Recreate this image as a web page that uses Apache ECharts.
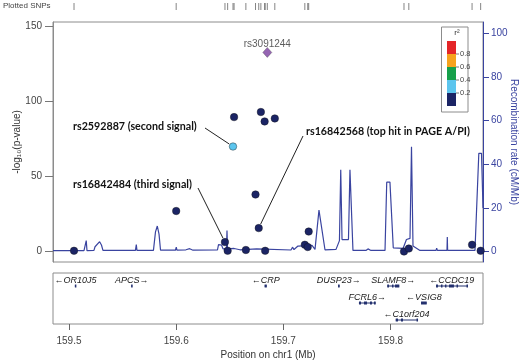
<!DOCTYPE html>
<html>
<head>
<meta charset="utf-8">
<script src="https://cdn.jsdelivr.net/npm/echarts@6/dist/echarts.min.js"></script>
<style>
  html, body { margin: 0; padding: 0; background: #fff; }
  #main { width: 520px; height: 361px; }
</style>
</head>
<body>
<div id="main"></div>
<script>
// SNPs: position (Mb), -log10(p), r2 with the lead SNP
var snpPos  = [159.5047, 159.600, 159.6455, 159.648, 159.653, 159.654, 159.665, 159.674, 159.677, 159.679,
               159.6825, 159.683, 159.692, 159.720, 159.7227, 159.7236, 159.8125, 159.817, 159.876, 159.884];
var snpLogP = [0.5, 27, 6.3, 0.5, 70, 89.6, 1, 38, 15.6, 93,
               86.7, 0.5, 88.7, 4.5, 3, 13.3, 0, 2, 4.5, 0.5];
var snpR2   = [0.05, 0.05, 0.1, 0.05, 0.3, 0.1, 0.05, 0.1, 0.1, 0.1,
               0.1, 0.05, 0.1, 0.05, 0.05, 0.05, 0.05, 0.05, 0.05, 0.05];

var leadName = "rs3091244";
var leadPos = 159.685;
var leadLogP = 132.7;

// recombination rate (cM/Mb)
var recombPos = [159.4851, 159.514, 159.5154, 159.5161, 159.5168, 159.5233, 159.5243, 159.5261, 159.5286, 159.5303,
  159.5317, 159.562, 159.5628, 159.5634, 159.5788, 159.5807, 159.5824, 159.584, 159.5854, 159.5993,
  159.6001, 159.6007, 159.6091, 159.6126, 159.6157, 159.6385, 159.6395, 159.6423, 159.6437, 159.6469,
  159.6474, 159.6479, 159.654, 159.6595, 159.6751, 159.6758, 159.7071, 159.7085, 159.7099, 159.7136,
  159.7267, 159.7295, 159.7332, 159.7388, 159.7491, 159.7523, 159.7535, 159.7547, 159.7607, 159.7621,
  159.7649, 159.777, 159.7789, 159.7817, 159.7948, 159.7964, 159.7994, 159.8025, 159.8116, 159.8148,
  159.8181, 159.8195, 159.8209, 159.8274, 159.8424, 159.843, 159.8436, 159.8526, 159.8529, 159.8532,
  159.8787, 159.8823, 159.8848, 159.8862];
var recombRate = [0.4, 0.4, 0.4, 5, 0.4, 0.5, 2.2, 2.5, 4.5, 3,
  0.5, 0.5, 3.2, 0.5, 0.5, 9, 11.7, 8, 0.6, 0.6,
  2, 0.6, 0.8, 1.3, 0.6, 0.7, 3.2, 3, 1.2, 1.2,
  9.6, 1.2, 1.4, 0.8, 1.2, 0.6, 0.7, 2, 0.9, 2.5,
  2.8, 1, 19, 0.8, 1, 5, 37.5, 5.5, 5.5, 37.5,
  0.5, 0.5, 1.2, 0.5, 0.5, 31.8, 31.8, 1.7, 1.4, 5.5,
  6, 48, 2.5, 0.5, 0.5, 1.5, 0.5, 0.5, 6.6, 0.5,
  0.5, 45, 45, 20];

// genes
var geneNames  = ["OR10J5", "APCS", "CRP", "DUSP23", "SLAMF8", "CCDC19", "FCRL6", "VSIG8", "C1orf204"];
var geneStart  = [159.5055, 159.558, 159.6825, 159.751, 159.7969, 159.8424, 159.7705, 159.8284, 159.8048];
var geneEnd    = [159.5065, 159.559, 159.6845, 159.7525, 159.8081, 159.8716, 159.7861, 159.8337, 159.8249];
var geneStrand = [-1, 1, -1, 1, 1, -1, 1, -1, -1];
var geneRow    = [0, 0, 0, 0, 0, 0, 1, 1, 2];
var geneExons  = [
  [[159.5055, 159.5065]],
  [[159.558, 159.559]],
  [[159.6825, 159.6845]],
  [[159.751, 159.7525]],
  [[159.7969, 159.7985], [159.8013, 159.8027], [159.8041, 159.8081]],
  [[159.8424, 159.8442], [159.8470, 159.8484], [159.8507, 159.8521], [159.8545, 159.8591], [159.8615, 159.8629], [159.8708, 159.8716]],
  [[159.7705, 159.7724], [159.7752, 159.7780], [159.7808, 159.7826], [159.7845, 159.7861]],
  [[159.8284, 159.8337]],
  [[159.8048, 159.8069], [159.8097, 159.8116], [159.8242, 159.8249]]
];

var xTicks = [159.5, 159.6, 159.7, 159.8];
var leftTicks = [0, 50, 100, 150];
var rightTicks = [0, 20, 40, 60, 80, 100];
var r2Breaks = [0.2, 0.4, 0.6, 0.8];
var r2Colors = ["#1b2465", "#5cc5ee", "#16a04a", "#f6a21d", "#e42528"];

var annoText = ["rs2592887 (second signal)", "rs16842484 (third signal)", "rs16842568 (top hit in PAGE A/PI)"];
var annoSnp = [4, 2, 8];
var annoBox = [[73, 127, 205, 128], [73, 185, 198, 188], [306, 132, 303, 136]]; // text x, y, line start x, y

var navy = "#3a44a0";

function r2Color(r) {
  var i = 0;
  while (i < r2Breaks.length && r >= r2Breaks[i]) i++;
  return r2Colors[i];
}

var chartDom = document.getElementById("main");
var myChart = echarts.init(chartDom);

var snpData = snpPos.map(function (p, i) {
  return { value: [p, snpLogP[i]], itemStyle: { color: r2Color(snpR2[i]) } };
});
var stripData = snpPos.concat([leadPos]).map(function (p) { return [p, 0.5]; });
var recombData = recombPos.map(function (p, i) { return [p, recombRate[i]]; });
var geneData = geneNames.map(function (n, i) { return [geneStart[i], geneEnd[i], geneRow[i], i]; });

var xMin = 159.4851, xMax = 159.8862;
var font = "Liberation Sans, Arial, sans-serif";

var option = {
  animation: false,
  backgroundColor: "#fff",
  grid: [
    { left: 53, top: 22, width: 430, height: 240, show: true, borderColor: "#8c8c8c", borderWidth: 1, outerBoundsMode: "none", containLabel: false },
    { left: 53, top: 273, width: 430, height: 51, show: true, borderColor: "#8c8c8c", borderWidth: 1, outerBoundsMode: "none", containLabel: false },
    { left: 53, top: 3, width: 430, height: 7, show: false, outerBoundsMode: "none", containLabel: false }
  ],
  xAxis: [
    { gridIndex: 0, type: "value", min: xMin, max: xMax, axisLine: { show: false }, axisTick: { show: false },
      axisLabel: { show: false }, splitLine: { show: false } },
    { gridIndex: 1, type: "value", min: xMin, max: xMax, position: "bottom",
      axisLine: { show: false, onZero: false },
      axisTick: { show: true, length: 6, lineStyle: { color: "#666" }, customValues: xTicks },
      axisLabel: { show: true, fontSize: 10, color: "#444", fontFamily: font, margin: 12, customValues: xTicks,
        formatter: function (v) { return v.toFixed(1); } },
      splitLine: { show: false },
      name: "Position on chr1 (Mb)", nameLocation: "middle", nameGap: 26,
      nameTextStyle: { fontSize: 10, color: "#333", fontFamily: font } },
    { gridIndex: 2, type: "value", min: xMin, max: xMax, show: false }
  ],
  yAxis: [
    { gridIndex: 0, type: "value", min: -7, max: 153, position: "left",
      axisLine: { show: true, onZero: false, lineStyle: { color: "#8c8c8c" } },
      axisTick: { show: true, length: 8, lineStyle: { color: "#777" }, customValues: leftTicks },
      axisLabel: { fontSize: 10, color: "#444", fontFamily: font, margin: 11, customValues: leftTicks },
      splitLine: { show: false },
      name: "-log\u2081\u2080(p-value)", nameLocation: "middle", nameGap: 31, nameRotate: 90, nameMoveOverlap: false,
      nameTextStyle: { fontSize: 10, color: "#333", fontFamily: font } },
    { gridIndex: 0, type: "value", min: -4.8, max: 105.2, position: "right",
      axisLine: { show: true, onZero: false, lineStyle: { color: navy } },
      axisTick: { show: true, length: 6, lineStyle: { color: navy }, customValues: rightTicks },
      axisLabel: { fontSize: 10, color: navy, fontFamily: font, margin: 8, customValues: rightTicks },
      splitLine: { show: false },
      name: "Recombination rate (cM/Mb)", nameLocation: "middle", nameGap: 26, nameRotate: -90, nameMoveOverlap: false,
      nameTextStyle: { fontSize: 10, color: navy, fontFamily: font } },
    { gridIndex: 1, type: "value", min: -0.765, max: 2.235, inverse: true, show: false },
    { gridIndex: 2, type: "value", min: 0, max: 1, show: false }
  ],
  series: [
    { type: "line", xAxisIndex: 0, yAxisIndex: 1, data: recombData, showSymbol: false, z: 2,
      lineStyle: { color: navy, width: 1.2 } },
    { type: "scatter", xAxisIndex: 0, yAxisIndex: 0, data: snpData, symbolSize: 7.5, z: 4,
      itemStyle: { borderColor: "#111", borderWidth: 0.4, opacity: 1 } },
    { type: "scatter", xAxisIndex: 0, yAxisIndex: 0, data: [[leadPos, leadLogP]], symbol: "diamond", symbolSize: [9, 10], z: 5,
      itemStyle: { color: "#7b3f9f", borderColor: "#333", borderWidth: 0.4 },
      label: { show: true, position: "top", distance: -2, formatter: leadName, fontSize: 10, color: "#333", fontFamily: font } },
    { type: "scatter", xAxisIndex: 2, yAxisIndex: 3, data: stripData, symbol: "rect", symbolSize: [1, 7],
      itemStyle: { color: "#666" } },
    { type: "custom", xAxisIndex: 1, yAxisIndex: 2, data: geneData, z: 3,
      renderItem: function (params, api) {
        var i = api.value(3);
        var row = api.value(2);
        var s = api.coord([api.value(0), row]);
        var e = api.coord([api.value(1), row]);
        var children = [{
          type: "line", shape: { x1: s[0], y1: s[1], x2: e[0], y2: e[1] },
          style: { stroke: "#23306e", lineWidth: 1 }
        }];
        geneExons[i].forEach(function (ex) {
          var a = api.coord([ex[0], row]), b = api.coord([ex[1], row]);
          children.push({ type: "rect", shape: { x: a[0], y: a[1] - 1.5, width: Math.max(b[0] - a[0], 1.5), height: 3 },
            style: { fill: "#23306e" } });
        });
        var name = geneStrand[i] < 0 ? "\u2190" + geneNames[i] : geneNames[i] + "\u2192";
        children.push({ type: "text", x: (s[0] + e[0]) / 2, y: s[1] - 6,
          style: { text: name, fill: "#222", font: "italic 9px " + font, align: "center", verticalAlign: "middle" } });
        return { type: "group", children: children };
      } }
  ]
};

myChart.setOption(option);

// legend and annotations
var graphics = [];
graphics.push({ type: "text", x: 3, y: 6, style: { text: "Plotted SNPs", fill: "#444", font: "8px " + font, verticalAlign: "middle" } });
graphics.push({ type: "rect", shape: { x: 441.5, y: 27, width: 26.5, height: 85 },
  style: { fill: "#fff", stroke: "#8c8c8c", lineWidth: 1 }, z: 10 });
graphics.push({ type: "text", x: 457, y: 33, style: { text: "r\u00b2", fill: "#333", font: "8px " + font, align: "center", verticalAlign: "middle" }, z: 11 });
for (var k = 0; k < r2Colors.length; k++) {
  var barTop = 41 + (r2Colors.length - 1 - k) * 13;
  graphics.push({ type: "rect", shape: { x: 447, y: barTop, width: 9, height: 13 }, style: { fill: r2Colors[k] }, z: 11 });
}
for (var b = 0; b < r2Breaks.length; b++) {
  var yb = 41 + (r2Breaks.length - b) * 13;
  graphics.push({ type: "line", shape: { x1: 456, y1: yb, x2: 459, y2: yb }, style: { stroke: "#555", lineWidth: 0.8 }, z: 11 });
  graphics.push({ type: "text", x: 460, y: yb, style: { text: r2Breaks[b].toFixed(1), fill: "#444", font: "7.5px " + font, verticalAlign: "middle" }, z: 11 });
}
annoText.forEach(function (t, i) {
  var box = annoBox[i];
  var j = annoSnp[i];
  var pt = myChart.convertToPixel({ xAxisIndex: 0, yAxisIndex: 0 }, [snpPos[j], snpLogP[j]]);
  var dx = pt[0] - box[2], dy = pt[1] - box[3];
  var len = Math.sqrt(dx * dx + dy * dy);
  var ex = pt[0] - dx / len * 4.5, ey = pt[1] - dy / len * 4.5;
  graphics.push({ type: "line", shape: { x1: box[2], y1: box[3], x2: ex, y2: ey }, style: { stroke: "#222", lineWidth: 1 }, z: 6 });
  graphics.push({ type: "text", x: box[0], y: box[1], style: { text: t, fill: "#111", font: "bold 10.7px Lato, sans-serif", verticalAlign: "middle" }, z: 6 });
});
myChart.setOption({ graphic: graphics });
</script>
</body>
</html>
